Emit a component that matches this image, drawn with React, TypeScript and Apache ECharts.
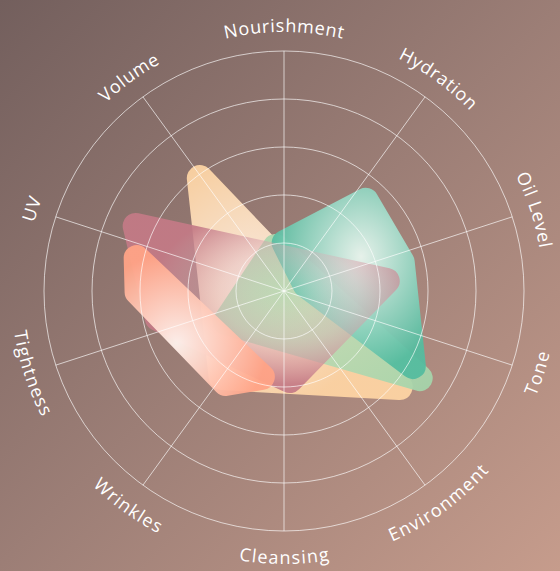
import React, { useEffect, useRef } from 'react';
import * as echarts from 'echarts';

// ---- data ----
const categories = ['Nourishment', 'Hydration', 'Oil Level', 'Tone', 'Environment', 'Cleansing', 'Wrinkles', 'Tightness', 'UV', 'Volume'];
const radiusMax = 100;
const radiusStep = 20;

// each shape: vertex angles (degrees, clockwise from top) and values (0-100)
const peachAngles = [323.3, 129.7, 215.9];
const peachValues = [58.7, 62.6, 44.3];

const greenAngles = [349.3, 122.7, 242.0];
const greenValues = [18.7, 67.2, 27.5];

const tealAngles = [42.2, 76.2, 120.2, 74.5, 0.8];
const tealValues = [50.7, 50.5, 62.1, 9.4, 20.0];

const mauveAngles = [293.7, 84.4, 176.3, 257.9];
const mauveValues = [67.5, 43.0, 37.2, 53.8];

const salmonAngles = [282.6, 194.5, 212.4, 269.6];
const salmonValues = [62.9, 37.0, 45.4, 61.0];

// ---- helpers ----
function roundedPath(pts: number[][], R: number): string {
  const n = pts.length;
  let area = 0;
  for (let i = 0; i < n; i++) {
    const a = pts[i], b = pts[(i + 1) % n];
    area += a[0] * b[1] - b[0] * a[1];
  }
  const P = area > 0 ? pts : pts.slice().reverse();
  const normals: number[][] = [];
  for (let i = 0; i < n; i++) {
    const a = P[i], b = P[(i + 1) % n];
    const dx = b[0] - a[0], dy = b[1] - a[1];
    const L = Math.hypot(dx, dy) || 1;
    normals.push([dy / L, -dx / L]);
  }
  const entries: number[][] = [], exits: number[][] = [], convex: boolean[] = [];
  for (let j = 0; j < n; j++) {
    const n0 = normals[(j - 1 + n) % n], n1 = normals[j];
    const p = P[j];
    const d0 = [-n0[1], n0[0]], d1 = [-n1[1], n1[0]];
    const cr = d0[0] * d1[1] - d0[1] * d1[0];
    if (cr > 0) {
      convex.push(true);
      entries.push([p[0] + R * n0[0], p[1] + R * n0[1]]);
      exits.push([p[0] + R * n1[0], p[1] + R * n1[1]]);
    } else {
      const dot = n0[0] * n1[0] + n0[1] * n1[1];
      const k = R / (1 + dot);
      const m = [p[0] + k * (n0[0] + n1[0]), p[1] + k * (n0[1] + n1[1])];
      convex.push(false);
      entries.push(m);
      exits.push(m);
    }
  }
  const f = (v: number) => v.toFixed(2);
  let d = `M${f(exits[0][0])} ${f(exits[0][1])}`;
  for (let k = 1; k <= n; k++) {
    const j = k % n;
    d += ` L${f(entries[j][0])} ${f(entries[j][1])}`;
    if (convex[j]) d += ` A${R} ${R} 0 0 1 ${f(exits[j][0])} ${f(exits[j][1])}`;
  }
  return d + ' Z';
}

function shapeSeries(name: string, angles: number[], values: number[], grad: any, z: number, opacity: number) {
  return {
    type: 'custom',
    name,
    coordinateSystem: 'polar',
    z,
    silent: true,
    data: values.map((v, i) => [v, angles[i]]),
    renderItem: (params: any, api: any) => {
      if (params.dataIndex !== 0) return null;
      const pts = values.map((v, i) => api.coord([v, angles[i]]));
      return {
        type: 'path',
        shape: { pathData: roundedPath(pts, 13) },
        style: { fill: grad, opacity },
      };
    },
  };
}

function radial(x: number, y: number, r: number, stops: [number, string][]) {
  return {
    type: 'radial', x, y, r, global: false,
    colorStops: stops.map(([offset, color]) => ({ offset, color })),
  };
}

const CX = 284;
const CY = 291;
const RADIUS = 240;

function curvedLabels() {
  const font = '500 18px "Open Sans"';
  const canvas = document.createElement('canvas');
  const ctx = canvas.getContext('2d')!;
  ctx.font = font;
  const spacing = 1.0;
  const rText = 266;
  const els: any[] = [];
  categories.forEach((label, i) => {
    const theta = (i * 360) / categories.length * Math.PI / 180;
    const chars = label.split('');
    const widths = chars.map((c) => ctx.measureText(c).width);
    const total = widths.reduce((a, b) => a + b, 0) + spacing * (chars.length - 1);
    const span = total / rText;
    const top = Math.cos(theta) > 0;
    let acc = 0;
    chars.forEach((c, k) => {
      const mid = acc + widths[k] / 2;
      acc += widths[k] + spacing;
      if (c === ' ') return;
      const phi = top ? theta - span / 2 + mid / rText : theta + span / 2 - mid / rText;
      const x = CX + rText * Math.sin(phi);
      const y = CY - rText * Math.cos(phi);
      els.push({
        type: 'text',
        x, y,
        rotation: top ? -phi : Math.PI - phi,
        silent: true,
        z: 100,
        style: { text: c, font, fill: '#ffffff', align: 'center', verticalAlign: 'middle' },
      });
    });
  });
  return els;
}

export default function App() {
  const ref = useRef<HTMLDivElement>(null);
  useEffect(() => {
    document.body.style.margin = '0';
    const chart = echarts.init(ref.current!, null, { renderer: 'svg' });
    const gridColor = 'rgba(255,255,255,0.65)';
    chart.setOption({
      animation: false,
      polar: { center: [CX, CY], radius: RADIUS },
      angleAxis: {
        type: 'value', min: 0, max: 360, interval: 360 / categories.length,
        startAngle: 90, clockwise: true, z: 10,
        axisLine: { show: false }, axisTick: { show: false }, axisLabel: { show: false },
        splitLine: { show: true, lineStyle: { color: gridColor, width: 1 } },
      },
      radiusAxis: {
        type: 'value', min: 0, max: radiusMax, interval: radiusStep, z: 10,
        axisLine: { show: false }, axisTick: { show: false }, axisLabel: { show: false },
        splitLine: { show: true, lineStyle: { color: gridColor, width: 1 } },
      },
      series: [
        shapeSeries('Peach', peachAngles, peachValues,
          radial(0.3, 0.5, 0.55, [[0, '#fff1e6'], [1, '#ffd5a4']]), 2, 0.93),
        shapeSeries('Green', greenAngles, greenValues,
          radial(0.45, 0.5, 0.7, [[0, '#c0dab4'], [1, '#a5d5ab']]), 3, 0.93),
        shapeSeries('Teal', tealAngles, tealValues,
          radial(0.58, 0.36, 0.6, [[0, '#eaf7f0'], [1, '#55bc9f']]), 4, 0.95),
        shapeSeries('Mauve', mauveAngles, mauveValues,
          radial(0.6, 0.45, 0.5, [[0, 'rgba(230,190,196,0)'], [0.5, 'rgba(222,172,182,0.4)'], [1, '#c47a86']]), 5, 0.92),
        shapeSeries('Salmon', salmonAngles, salmonValues,
          radial(0.35, 0.65, 0.6, [[0, '#fff3ee'], [1, '#ffa386']]), 6, 0.95),
      ],
      graphic: { elements: curvedLabels() },
    });
    return () => chart.dispose();
  }, []);
  return (
    <div
      ref={ref}
      style={{
        width: 560,
        height: 571,
        background: 'linear-gradient(135deg, #735f5d 0%, #9c7e76 50%, #c69c8c 100%)',
      }}
    />
  );
}
